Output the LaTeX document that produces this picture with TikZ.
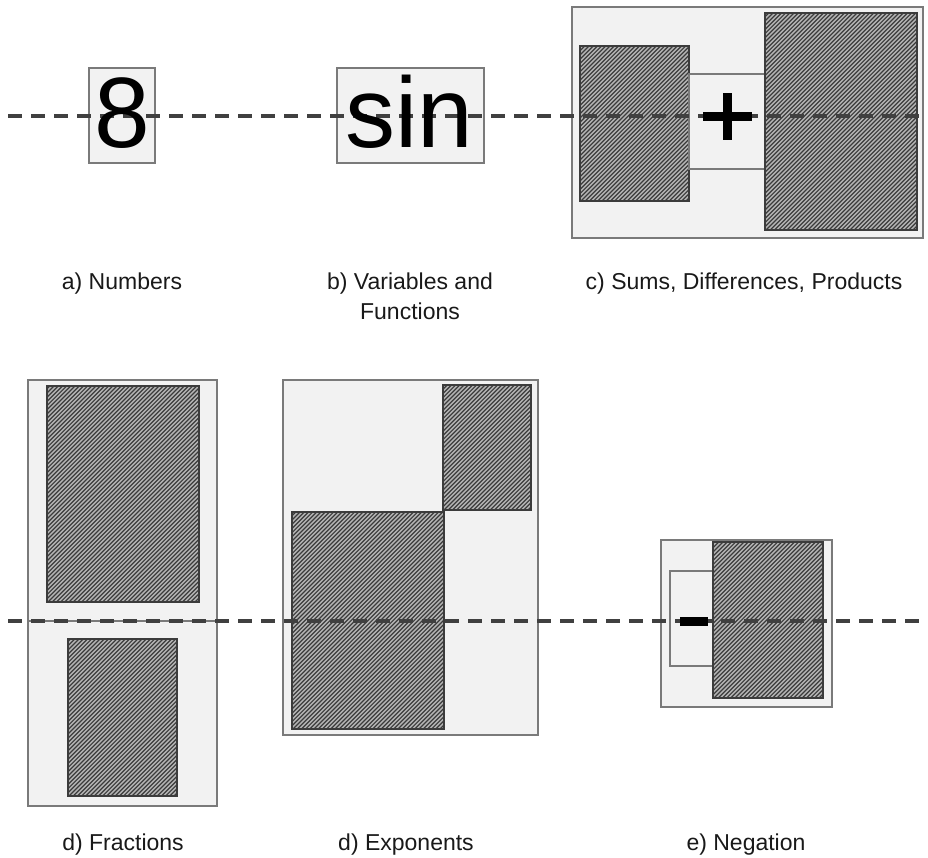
\documentclass[tikz,border=0pt]{standalone}
\usepackage{fontspec}
\setmainfont{Liberation Sans}
\usetikzlibrary{calc}
\definecolor{boxfill}{HTML}{F2F2F2}
\definecolor{boxline}{HTML}{7A7A7A}
\definecolor{hatchbg}{HTML}{B4B4B4}
\definecolor{hatchln}{HTML}{3C3C3C}
\definecolor{dashln}{HTML}{404040}
\newcommand{\hatchbox}[1]{%
  \begin{scope}
    \clip (#1.north west) rectangle (#1.south east);
    \foreach \t in {-230,-225.8,...,160}
      \draw[hatchln,line width=1.2pt] ($(#1.south west)+(\t,0)$) -- ++(240,-240);
  \end{scope}
  \draw[hatchln,line width=1.2pt] (#1.north west) rectangle (#1.south east);}
\begin{document}
\begin{tikzpicture}[x=1pt,y=-1pt,
  outerbox/.style={fill=boxfill,draw=boxline,line width=1.8pt,inner sep=0pt,outer sep=0pt,anchor=north west},
  hatched/.style={fill=hatchbg,draw=none,inner sep=0pt,outer sep=0pt,anchor=north west},
  midline/.style={draw=dashln,line width=3.4pt,dash pattern=on 14pt off 9pt},
  opsign/.style={fill=black,draw=none,inner sep=0pt,outer sep=0pt},
  bigsym/.style={font=\fontsize{100}{100}\selectfont,anchor=base,inner sep=0pt},
  caption/.style={font=\fontsize{23}{30}\selectfont,align=center,anchor=base,text=black!90,inner sep=0pt}
]
\useasboundingbox (0,0) rectangle (928,857);
% a) number
\node[outerbox,minimum width=66pt,minimum height=95pt] (numbox) at (89,68) {};
% b) function
\node[outerbox,minimum width=147pt,minimum height=95pt] (funbox) at (337,68) {};
% c) sums
\node[outerbox,minimum width=351pt,minimum height=231pt] (sumbox) at (572,7) {};
\node[hatched,minimum width=109pt,minimum height=155pt] (sumleft) at (580,46) {};
\hatchbox{sumleft}
\node[outerbox,minimum width=76pt,minimum height=95pt] (plusbox) at (689,74) {};
\node[hatched,minimum width=152pt,minimum height=217pt] (sumright) at (765,13) {};
\hatchbox{sumright}
% d) fractions
\node[outerbox,minimum width=189pt,minimum height=426pt] (fracbox) at (28,380) {};
\node[hatched,minimum width=152pt,minimum height=216pt] (numer) at (47,386) {};
\hatchbox{numer}
\node[hatched,minimum width=109pt,minimum height=157pt] (denom) at (68,639) {};
\hatchbox{denom}
\draw[boxline,line width=2.5pt] (fracbox.west |- 0,621) -- (fracbox.east |- 0,621);
% d) exponents
\node[outerbox,minimum width=255pt,minimum height=355pt] (expbox) at (283,380) {};
\node[hatched,minimum width=88pt,minimum height=125pt] (expo) at (443,385) {};
\hatchbox{expo}
\node[hatched,minimum width=152pt,minimum height=217pt] (base) at (292,512) {};
\hatchbox{base}
% e) negation
\node[outerbox,minimum width=171pt,minimum height=167pt] (negbox) at (661,540) {};
\node[outerbox,minimum width=43pt,minimum height=95pt] (minusbox) at (670,571) {};
\node[hatched,minimum width=110pt,minimum height=156pt] (negarg) at (713,542) {};
\hatchbox{negarg}
% dashed base lines
\coordinate (topL) at (8,116);
\coordinate (topR) at (928,116);
\coordinate (botL) at (8,621);
\coordinate (botR) at (928,621);
\draw[midline] (topL) -- (topR);
\draw[midline] (botL) -- (botR);
% symbols on top
\node[bigsym] (eight) at (122,147) {8};
\node[bigsym] (sin) at (409,147) {sin};
\node[opsign,minimum width=49pt,minimum height=9pt] (plush) at (727.5,116) {};
\node[opsign,minimum width=9pt,minimum height=47pt] (plusv) at (727.5,116.5) {};
\node[opsign,minimum width=28pt,minimum height=9pt] (minus) at (694,621.5) {};
% captions
\node[caption] (capa) at (122,289) {a) Numbers};
\node[caption] (capb) at (410,319) {b) Variables and\\Functions};
\node[caption] (capc) at (744,289) {c) Sums, Differences, Products};
\node[caption] (capd) at (123,850) {d) Fractions};
\node[caption] (cape) at (406,850) {d) Exponents};
\node[caption] (capf) at (746,850) {e) Negation};
\end{tikzpicture}
\end{document}
